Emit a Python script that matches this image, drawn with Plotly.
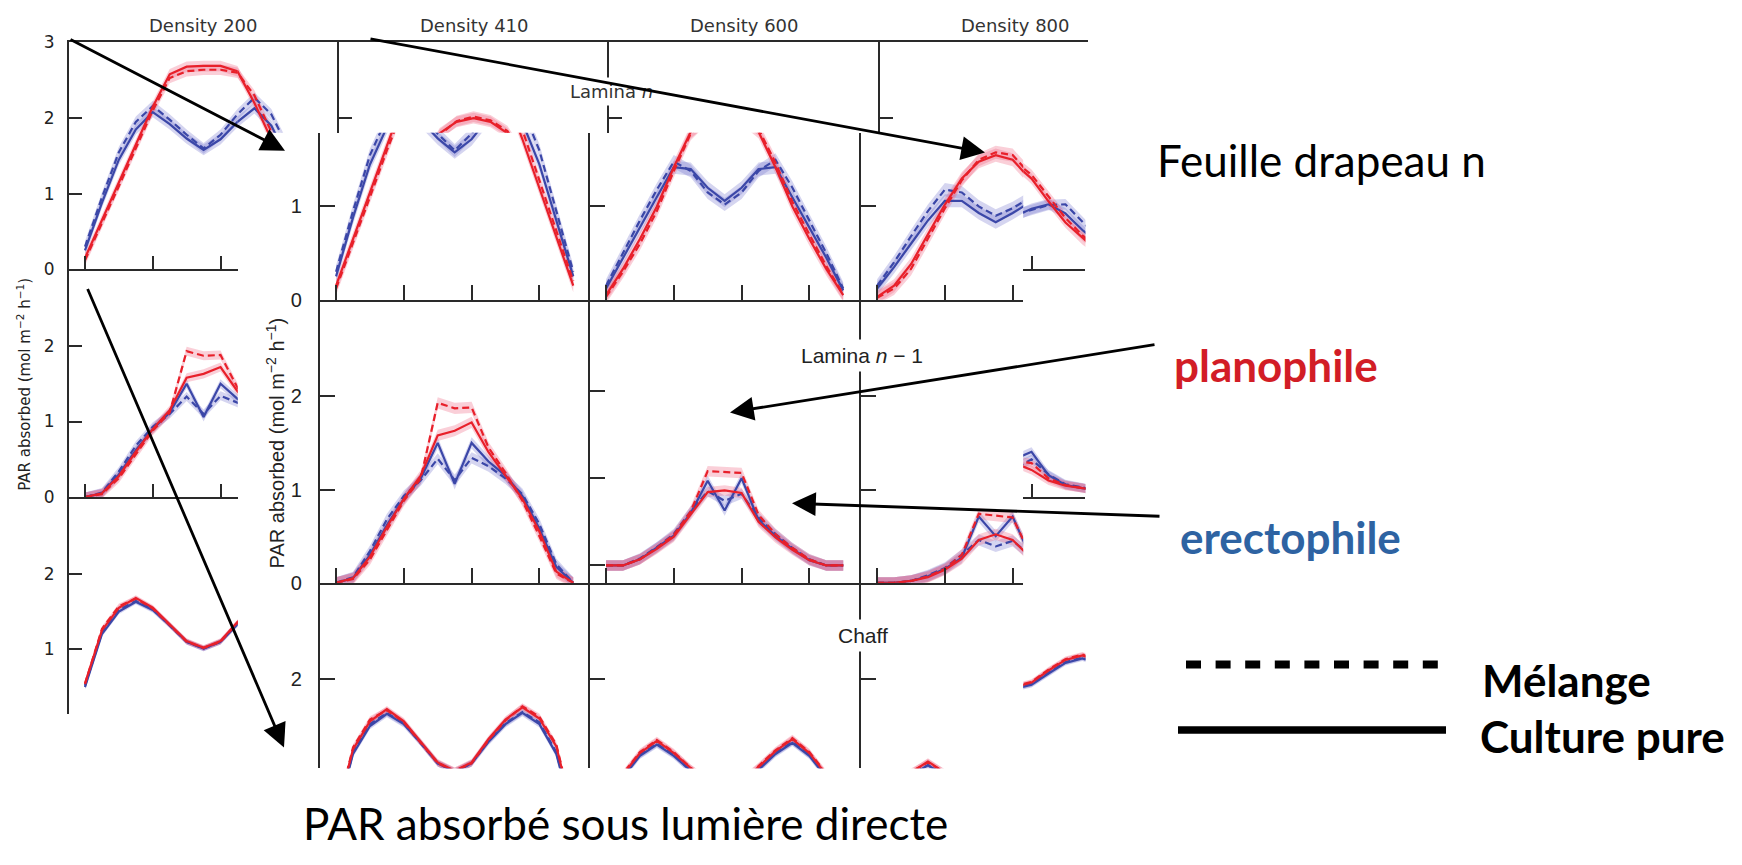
import plotly.graph_objects as go

# ---------------- data ----------------
HOURS = [0, 1, 2, 3, 4, 5, 6, 7, 8, 9, 10, 11, 12, 13, 14]
HOUR_TICKS = [0, 4, 8, 12]
DENSITY_TITLES = ["Density 200", "Density 410", "Density 600", "Density 800"]
ROW_LABELS = ["Lamina <i>n</i>", "Lamina <i>n</i> − 1", "Chaff"]
Y_LABEL = "PAR absorbed (mol m<sup>−2</sup> h<sup>−1</sup>)"
BAND_HALF = {"N": 0.07, "N1": 0.06, "C": 0.035}

# Density 200
D200_N_RED_PURE = [0.15, 0.65, 1.15, 1.65, 2.15, 2.58, 2.68, 2.69, 2.69, 2.62, 2.2, 1.72, 1.2, 0.68, 0.15]
D200_N_RED_MIX = [0.12, 0.6, 1.1, 1.6, 2.1, 2.53, 2.62, 2.64, 2.64, 2.6, 2.3, 1.82, 1.28, 0.74, 0.2]
D200_N_BLUE_PURE = [0.25, 0.88, 1.45, 1.85, 2.08, 1.92, 1.73, 1.58, 1.72, 1.95, 2.13, 1.9, 1.45, 0.85, 0.25]
D200_N_BLUE_MIX = [0.3, 0.95, 1.55, 1.95, 2.16, 1.98, 1.78, 1.6, 1.78, 2.05, 2.27, 2.05, 1.6, 0.95, 0.3]

D200_N1_RED_PURE = [0, 0.05, 0.28, 0.6, 0.9, 1.15, 1.58, 1.63, 1.72, 1.4, 1.15, 0.9, 0.55, 0.12, 0]
D200_N1_RED_MIX = [0, 0.04, 0.25, 0.56, 0.88, 1.12, 1.93, 1.87, 1.88, 1.45, 1.18, 0.88, 0.5, 0.1, 0]
D200_N1_BLUE_PURE = [0, 0.05, 0.3, 0.62, 0.9, 1.12, 1.5, 1.06, 1.5, 1.3, 1.15, 0.93, 0.58, 0.17, 0]
D200_N1_BLUE_MIX = [0, 0.06, 0.34, 0.68, 0.93, 1.1, 1.33, 1.1, 1.34, 1.25, 1.12, 0.95, 0.63, 0.2, 0]

D200_C_RED_PURE = [0.55, 1.25, 1.55, 1.68, 1.55, 1.33, 1.11, 1.02, 1.11, 1.36, 1.57, 1.7, 1.58, 1.28, 0.55]
D200_C_RED_MIX = [0.54, 1.27, 1.57, 1.67, 1.54, 1.32, 1.1, 1.02, 1.1, 1.35, 1.56, 1.71, 1.6, 1.3, 0.56]
D200_C_BLUE_PURE = [0.5, 1.2, 1.5, 1.63, 1.52, 1.32, 1.1, 1.01, 1.1, 1.33, 1.52, 1.64, 1.52, 1.2, 0.5]
D200_C_BLUE_MIX = [0.52, 1.22, 1.52, 1.64, 1.53, 1.32, 1.1, 1.01, 1.1, 1.34, 1.53, 1.65, 1.54, 1.22, 0.52]

# Density 410
D410_N_RED_PURE = [0.05, 0.33, 0.65, 1.0, 1.42, 1.8, 1.95, 2.0, 1.95, 1.8, 1.42, 1.0, 0.65, 0.33, 0.05]
D410_N_RED_MIX = [0.03, 0.3, 0.6, 0.95, 1.38, 1.78, 1.96, 2.02, 1.97, 1.83, 1.47, 1.05, 0.7, 0.36, 0.06]
D410_N_BLUE_PURE = [0.12, 0.45, 0.78, 1.1, 1.42, 1.4, 1.2, 1.06, 1.2, 1.4, 1.42, 1.1, 0.78, 0.45, 0.1]
D410_N_BLUE_MIX = [0.15, 0.5, 0.85, 1.18, 1.48, 1.38, 1.15, 1.02, 1.15, 1.38, 1.5, 1.2, 0.85, 0.5, 0.12]

D410_N1_RED_PURE = [0, 0, 0.07, 0.19, 0.33, 0.58, 0.84, 0.86, 0.83, 0.5, 0.32, 0.18, 0.06, 0, 0]
D410_N1_RED_MIX = [0, 0, 0.07, 0.2, 0.35, 0.62, 1.08, 1.07, 1.06, 0.58, 0.36, 0.2, 0.07, 0, 0]
D410_N1_BLUE_PURE = [0, 0, 0.07, 0.2, 0.34, 0.6, 0.97, 0.63, 1.0, 0.52, 0.34, 0.19, 0.06, 0, 0]
D410_N1_BLUE_MIX = [0, 0, 0.08, 0.21, 0.36, 0.62, 0.85, 0.74, 0.82, 0.55, 0.36, 0.2, 0.07, 0, 0]

D410_C_RED_PURE = [0.47, 0.98, 1.21, 1.34, 1.21, 1.05, 0.92, 0.87, 0.92, 1.06, 1.23, 1.36, 1.21, 0.98, 0.47]
D410_C_RED_MIX = [0.47, 0.99, 1.22, 1.35, 1.22, 1.05, 0.92, 0.87, 0.92, 1.07, 1.24, 1.37, 1.22, 0.99, 0.48]
D410_C_BLUE_PURE = [0.45, 0.95, 1.18, 1.3, 1.18, 1.02, 0.9, 0.85, 0.9, 1.03, 1.2, 1.32, 1.18, 0.95, 0.45]
D410_C_BLUE_MIX = [0.45, 0.96, 1.19, 1.31, 1.19, 1.02, 0.9, 0.85, 0.9, 1.04, 1.21, 1.33, 1.19, 0.96, 0.45]

# Density 600
D600_N_RED_PURE = [0.03, 0.15, 0.38, 0.7, 1.02, 1.3, 1.48, 1.55, 1.5, 1.3, 1.02, 0.7, 0.38, 0.15, 0.03]
D600_N_RED_MIX = [0.02, 0.12, 0.33, 0.65, 0.98, 1.28, 1.5, 1.58, 1.55, 1.35, 1.05, 0.72, 0.4, 0.16, 0.03]
D600_N_BLUE_PURE = [0.12, 0.35, 0.6, 0.85, 1.06, 1.06, 0.93, 0.83, 0.93, 1.04, 1.05, 0.85, 0.6, 0.35, 0.12]
D600_N_BLUE_MIX = [0.15, 0.4, 0.68, 0.95, 1.18, 1.15, 1.0, 0.9, 0.98, 1.1, 1.2, 0.95, 0.68, 0.4, 0.15]

D600_N1_RED_PURE = [0, 0, 0.02, 0.06, 0.14, 0.26, 0.46, 0.52, 0.46, 0.28, 0.14, 0.06, 0.02, 0, 0]
D600_N1_RED_MIX = [0, 0, 0.02, 0.07, 0.15, 0.3, 0.74, 0.72, 0.7, 0.32, 0.16, 0.07, 0.02, 0, 0]
D600_N1_BLUE_PURE = [0, 0, 0.02, 0.07, 0.15, 0.27, 0.71, 0.5, 0.71, 0.3, 0.15, 0.07, 0.02, 0, 0]
D600_N1_BLUE_MIX = [0, 0, 0.02, 0.08, 0.16, 0.3, 0.46, 0.39, 0.45, 0.3, 0.16, 0.08, 0.02, 0, 0]

D600_C_RED_PURE = [0.32, 0.72, 1.0, 1.12, 1.0, 0.82, 0.66, 0.61, 0.66, 0.82, 1.0, 1.12, 1.0, 0.72, 0.32]
D600_C_RED_MIX = [0.32, 0.73, 1.01, 1.11, 1.0, 0.82, 0.66, 0.61, 0.66, 0.83, 1.01, 1.11, 1.0, 0.73, 0.32]
D600_C_BLUE_PURE = [0.3, 0.7, 0.97, 1.08, 0.97, 0.8, 0.65, 0.6, 0.65, 0.8, 0.97, 1.08, 0.97, 0.7, 0.3]
D600_C_BLUE_MIX = [0.3, 0.71, 0.98, 1.08, 0.97, 0.8, 0.65, 0.6, 0.65, 0.81, 0.98, 1.08, 0.97, 0.71, 0.3]

# Density 800
D800_N_RED_PURE = [0.02, 0.12, 0.3, 0.6, 0.9, 1.15, 1.35, 1.4, 1.2, 0.9, 0.62, 0.4, 0.22, 0.1, 0.02]
D800_N_RED_MIX = [0.02, 0.1, 0.28, 0.57, 0.88, 1.15, 1.37, 1.43, 1.25, 0.97, 0.68, 0.45, 0.25, 0.11, 0.02]
D800_N_BLUE_PURE = [0.1, 0.3, 0.5, 0.65, 0.72, 0.7, 0.68, 0.7, 0.8, 0.86, 0.74, 0.52, 0.32, 0.15, 0.05]
D800_N_BLUE_MIX = [0.12, 0.35, 0.58, 0.75, 0.82, 0.78, 0.72, 0.72, 0.78, 0.85, 0.86, 0.6, 0.36, 0.17, 0.06]

D800_N1_RED_PURE = [0, 0, 0.02, 0.05, 0.1, 0.2, 0.35, 0.45, 0.36, 0.22, 0.15, 0.12, 0.08, 0.04, 0]
D800_N1_RED_MIX = [0, 0, 0.02, 0.06, 0.12, 0.22, 0.5, 0.48, 0.45, 0.25, 0.16, 0.12, 0.08, 0.04, 0]
D800_N1_BLUE_PURE = [0, 0, 0.02, 0.06, 0.12, 0.22, 0.4, 0.5, 0.6, 0.29, 0.16, 0.12, 0.08, 0.04, 0]
D800_N1_BLUE_MIX = [0, 0, 0.02, 0.06, 0.12, 0.22, 0.45, 0.38, 0.5, 0.3, 0.17, 0.12, 0.08, 0.04, 0]

D800_C_RED_PURE = [0.22, 0.52, 0.73, 0.83, 0.78, 0.64, 0.52, 0.5, 0.56, 0.72, 0.86, 0.92, 0.84, 0.58, 0.22]
D800_C_RED_MIX = [0.22, 0.53, 0.74, 0.84, 0.79, 0.65, 0.53, 0.51, 0.57, 0.73, 0.87, 0.93, 0.85, 0.59, 0.23]
D800_C_BLUE_PURE = [0.2, 0.5, 0.7, 0.8, 0.75, 0.62, 0.5, 0.48, 0.53, 0.68, 0.82, 0.88, 0.8, 0.55, 0.2]
D800_C_BLUE_MIX = [0.21, 0.51, 0.71, 0.81, 0.76, 0.63, 0.51, 0.49, 0.54, 0.69, 0.83, 0.89, 0.81, 0.56, 0.21]

SERIES = {
    ("200", "N"): (D200_N_RED_PURE, D200_N_RED_MIX, D200_N_BLUE_PURE, D200_N_BLUE_MIX),
    ("200", "N1"): (D200_N1_RED_PURE, D200_N1_RED_MIX, D200_N1_BLUE_PURE, D200_N1_BLUE_MIX),
    ("200", "C"): (D200_C_RED_PURE, D200_C_RED_MIX, D200_C_BLUE_PURE, D200_C_BLUE_MIX),
    ("410", "N"): (D410_N_RED_PURE, D410_N_RED_MIX, D410_N_BLUE_PURE, D410_N_BLUE_MIX),
    ("410", "N1"): (D410_N1_RED_PURE, D410_N1_RED_MIX, D410_N1_BLUE_PURE, D410_N1_BLUE_MIX),
    ("410", "C"): (D410_C_RED_PURE, D410_C_RED_MIX, D410_C_BLUE_PURE, D410_C_BLUE_MIX),
    ("600", "N"): (D600_N_RED_PURE, D600_N_RED_MIX, D600_N_BLUE_PURE, D600_N_BLUE_MIX),
    ("600", "N1"): (D600_N1_RED_PURE, D600_N1_RED_MIX, D600_N1_BLUE_PURE, D600_N1_BLUE_MIX),
    ("600", "C"): (D600_C_RED_PURE, D600_C_RED_MIX, D600_C_BLUE_PURE, D600_C_BLUE_MIX),
    ("800", "N"): (D800_N_RED_PURE, D800_N_RED_MIX, D800_N_BLUE_PURE, D800_N_BLUE_MIX),
    ("800", "N1"): (D800_N1_RED_PURE, D800_N1_RED_MIX, D800_N1_BLUE_PURE, D800_N1_BLUE_MIX),
    ("800", "C"): (D800_C_RED_PURE, D800_C_RED_MIX, D800_C_BLUE_PURE, D800_C_BLUE_MIX),
}

# ---------------- geometry / style ----------------
FIG_W, FIG_H = 1742, 865
MW, MH = 1568.0, 779.0          # measuring frame (scaled reference)


def PX(d):
    return d / MW


def PY(d):
    return 1 - d / MH


RED = "#e8202a"
BLUE = "#3b47a8"
RED_BAND = "rgba(238, 95, 125, 0.30)"
BLUE_BAND = "rgba(115, 115, 205, 0.30)"
AXC = "#2a2a2a"
BACK_FONT = "DejaVu Sans"
FRONT_FONT = "Liberation Sans, Arial, sans-serif"
SLIDE_FONT = "Lato, Open Sans, sans-serif"

X_OFF, X_UNIT = 14.5, 15.25
BACK_UNIT, FRONT_UNIT = 69.7, 86.0

fig = go.Figure()
layout_axes = {}
counter = [0]


def add_panel(key, organ, xd, yd, axis_x, zero, unit, left=False, bottom=False, top=False,
              ytv=(), ylab=False, xtv=(), front=False):
    counter[0] += 1
    n = counter[0]
    xid = "x" if n == 1 else f"x{n}"
    yid = "y" if n == 1 else f"y{n}"
    xr = [(xd[0] - axis_x - X_OFF) / X_UNIT, (xd[1] - axis_x - X_OFF) / X_UNIT]
    yr = [(zero - yd[1]) / unit, (zero - yd[0]) / unit]
    lw = 2.3 if front else 2.0
    tl = 15 if front else 13
    xa = dict(domain=[PX(xd[0]), PX(xd[1])], range=xr, anchor=yid, showgrid=False,
              zeroline=False, showticklabels=False, fixedrange=True,
              showline=bottom or top, linecolor=AXC, linewidth=lw,
              side="top" if (top and not bottom) else "bottom",
              mirror=True if (top and bottom) else False,
              ticks="inside" if (xtv and bottom) else "", tickvals=list(xtv),
              ticklen=tl, tickwidth=lw, tickcolor=AXC)
    ya = dict(domain=[PY(yd[1]), PY(yd[0])], range=yr, anchor=xid, showgrid=False,
              zeroline=False, fixedrange=True, showline=left, linecolor=AXC, linewidth=lw,
              ticks="inside" if (ytv and left) else "", tickvals=list(ytv),
              ticktext=[str(v) for v in ytv],
              ticklen=tl, tickwidth=lw, tickcolor=AXC, showticklabels=ylab,
              ticklabelstandoff=12 if front else 9,
              tickfont=dict(family=FRONT_FONT if front else BACK_FONT,
                            size=20 if front else 17, color="#222"))
    layout_axes["xaxis" if n == 1 else f"xaxis{n}"] = xa
    layout_axes["yaxis" if n == 1 else f"yaxis{n}"] = ya

    rp, rm, bp, bm = SERIES[key]
    e = BAND_HALF[organ]
    for s, col in ((bp, BLUE_BAND), (bm, BLUE_BAND), (rp, RED_BAND), (rm, RED_BAND)):
        fig.add_trace(go.Scatter(
            x=HOURS + HOURS[::-1], y=[v + e for v in s] + [v - e for v in s][::-1],
            fill="toself", fillcolor=col, line=dict(width=0), mode="lines",
            xaxis=xid, yaxis=yid, hoverinfo="skip", showlegend=False))
    for s, col, dash in ((bm, BLUE, "7px,4px"), (bp, BLUE, "solid"),
                         (rm, RED, "7px,4px"), (rp, RED, "solid")):
        fig.add_trace(go.Scatter(x=HOURS, y=s, mode="lines",
                                 line=dict(color=col, width=2.2, dash=dash),
                                 xaxis=xid, yaxis=yid, hoverinfo="skip", showlegend=False))


# ----- background (small) figure: visible pieces -----
add_panel(("200", "N"), "N", (62, 214), (30, 240), 62, 240, BACK_UNIT, left=True, bottom=True, top=True,
          ytv=(0, 1, 2, 3), ylab=True, xtv=HOUR_TICKS)
add_panel(("200", "N"), "N", (214, 305), (30, 114), 62, 240, BACK_UNIT, top=True)
add_panel(("200", "N1"), "N1", (62, 214), (240, 450), 62, 450, BACK_UNIT, left=True, bottom=True,
          ytv=(0, 1, 2), ylab=True, xtv=HOUR_TICKS)
add_panel(("200", "C"), "C", (62, 214), (450, 650), 62, 660, BACK_UNIT, left=True, ytv=(1, 2), ylab=True)
add_panel(("410", "N"), "N", (305, 548), (30, 114), 305, 240, BACK_UNIT, left=True, top=True, ytv=(2, 3))
add_panel(("600", "N"), "N", (548, 792), (30, 114), 548, 240, BACK_UNIT, left=True, top=True, ytv=(2, 3))
add_panel(("800", "N"), "N", (792, 979), (30, 114), 792, 240, BACK_UNIT, left=True, top=True, ytv=(2, 3))
add_panel(("800", "N"), "N", (921, 977), (114, 240), 792, 240, BACK_UNIT, bottom=True, xtv=HOUR_TICKS)
add_panel(("800", "N1"), "N1", (921, 977), (240, 450), 792, 450, BACK_UNIT, bottom=True, xtv=HOUR_TICKS)
add_panel(("800", "C"), "C", (921, 977), (450, 650), 792, 660, BACK_UNIT)

# ----- foreground (enlarged) figure -----
FRONT_AXES = [288, 531, 775]
FRONT_RIGHT = [531, 775, 921]
for ci, dens in enumerate(["200", "410", "600"]):
    ax_x = FRONT_AXES[ci]
    xd = (ax_x, FRONT_RIGHT[ci])
    lab = ci == 0
    add_panel((dens, "N"), "N", xd, (114, 268), ax_x, 268, FRONT_UNIT, left=True, bottom=True,
              ytv=(0, 1), ylab=lab, xtv=HOUR_TICKS, front=True)
    if dens == "410":
        add_panel((dens, "N1"), "N1", xd, (268, 529), ax_x, 513, 80.5, left=True, bottom=True,
                  ytv=(0, 1, 2), xtv=HOUR_TICKS, front=True)
    else:
        add_panel((dens, "N1"), "N1", xd, (268, 529), ax_x, 529, FRONT_UNIT, left=True, bottom=True,
                  ytv=(0, 1, 2), ylab=lab, xtv=HOUR_TICKS, front=True)
    add_panel((dens, "C"), "C", xd, (529, 700), ax_x, 790, FRONT_UNIT, left=True,
              ytv=(1, 2), ylab=lab, front=True)

# ---------------- annotations ----------------
ann = []
for title, cx in zip(DENSITY_TITLES, [183.5, 427, 670.5, 914.5]):
    ann.append(dict(x=PX(cx), y=PY(15), xref="paper", yref="paper", text=title, showarrow=False,
                    xanchor="center", yanchor="middle",
                    font=dict(family=BACK_FONT, size=18, color="#333")))
ann.append(dict(x=PX(550), y=PY(76), xref="paper", yref="paper", text=ROW_LABELS[0], showarrow=False,
                xanchor="center", yanchor="middle", bgcolor="white", borderpad=3,
                font=dict(family=BACK_FONT, size=18, color="#333")))
ann.append(dict(x=PX(775.5), y=PY(319), xref="paper", yref="paper", text=ROW_LABELS[1], showarrow=False,
                xanchor="center", yanchor="middle", bgcolor="white", borderpad=4,
                font=dict(family=FRONT_FONT, size=21, color="#222")))
ann.append(dict(x=PX(777), y=PY(578), xref="paper", yref="paper", text=ROW_LABELS[2], showarrow=False,
                xanchor="center", yanchor="middle", bgcolor="white", borderpad=4,
                font=dict(family=FRONT_FONT, size=21, color="#222")))
ann.append(dict(x=PX(22), y=PY(346), xref="paper", yref="paper", text=Y_LABEL, showarrow=False,
                textangle=-90, xanchor="center", yanchor="middle",
                font=dict(family=BACK_FONT, size=15, color="#222")))
ann.append(dict(x=PX(248), y=PY(400), xref="paper", yref="paper", text=Y_LABEL, showarrow=False,
                textangle=-90, xanchor="center", yanchor="middle",
                font=dict(family=FRONT_FONT, size=20, color="#222")))

ann.append(dict(x=1155 / FIG_W, y=1 - 155 / FIG_H, xref="paper", yref="paper", text="Feuille drapeau n",
                showarrow=False, xanchor="left", yanchor="middle",
                font=dict(family=SLIDE_FONT, size=44, color="black")))
ann.append(dict(x=1172 / FIG_W, y=1 - 364 / FIG_H, xref="paper", yref="paper", text="<b>planophile</b>",
                showarrow=False, xanchor="left", yanchor="middle",
                font=dict(family=SLIDE_FONT, size=44, color="#d21d26")))
ann.append(dict(x=1178 / FIG_W, y=1 - 541 / FIG_H, xref="paper", yref="paper", text="<b>erectophile</b>",
                showarrow=False, xanchor="left", yanchor="middle",
                font=dict(family=SLIDE_FONT, size=44, color="#2e63a2")))
ann.append(dict(x=1480 / FIG_W, y=1 - 687 / FIG_H, xref="paper", yref="paper", text="<b>Mélange</b>",
                showarrow=False, xanchor="left", yanchor="middle",
                font=dict(family=SLIDE_FONT, size=44, color="black")))
ann.append(dict(x=1478 / FIG_W, y=1 - 744 / FIG_H, xref="paper", yref="paper", text="<b>Culture pure</b>",
                showarrow=False, xanchor="left", yanchor="middle",
                font=dict(family=SLIDE_FONT, size=44, color="black")))
ann.append(dict(x=625 / FIG_W, y=1 - 833 / FIG_H, xref="paper", yref="paper",
                text="PAR absorbé sous lumière directe", showarrow=False,
                xanchor="center", yanchor="middle",
                font=dict(family=SLIDE_FONT, size=44, color="black")))

# arrows (tip, tail) in figure pixels
ARROWS = [((285, 145), (69, 33)), ((985, 147), (369, 33)), ((284, 756), (87, 296)),
          ((730, 413), (1156, 345)), ((792, 506), (1161, 519))]
for (tx, ty), (sx, sy) in ARROWS:
    ann.append(dict(x=tx / FIG_W, y=1 - ty / FIG_H, xref="paper", yref="paper",
                    ax=sx - tx, ay=sy - ty, axref="pixel", ayref="pixel", text="",
                    showarrow=True, arrowhead=2, arrowsize=1.7, arrowwidth=2.8,
                    arrowcolor="black", standoff=0, startstandoff=0))

shapes = [
    dict(type="line", xref="paper", yref="paper", x0=1186 / FIG_W, x1=1440 / FIG_W,
         y0=1 - 671 / FIG_H, y1=1 - 671 / FIG_H, line=dict(color="black", width=8, dash="15px,14.6px")),
    dict(type="line", xref="paper", yref="paper", x0=1178 / FIG_W, x1=1446 / FIG_W,
         y0=1 - 738 / FIG_H, y1=1 - 738 / FIG_H, line=dict(color="black", width=7.5)),
]

fig.update_layout(width=FIG_W, height=FIG_H, autosize=False,
                  margin=dict(l=0, r=0, t=0, b=0),
                  paper_bgcolor="white", plot_bgcolor="rgba(0,0,0,0)",
                  showlegend=False, annotations=ann, shapes=shapes, **layout_axes)

fig.write_html("out.html")
